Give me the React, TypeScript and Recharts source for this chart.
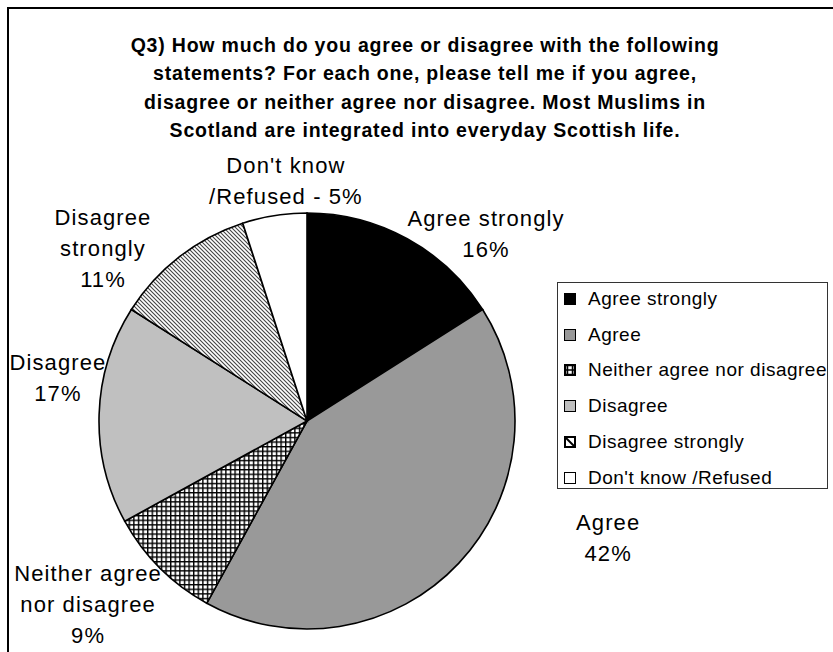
import React from "react"
import { Cell, Legend, Pie, PieChart } from "recharts"

const categories = ["Agree strongly", "Agree", "Neither agree nor disagree", "Disagree", "Disagree strongly", "Don't know /Refused"]
const shares = [16, 42, 9, 17, 11, 5]
// slice labels as printed on the chart, one entry per line
const sliceLabels = [
  ["Agree strongly", "16%"],
  ["Agree", "42%"],
  ["Neither agree", "nor disagree", "9%"],
  ["Disagree", "17%"],
  ["Disagree", "strongly", "11%"],
  ["Don't know", "/Refused - 5%"],
]
const titleLines = [
  "Q3) How much do you agree or disagree with the following",
  "statements? For each one, please tell me if you agree,",
  "disagree or neither agree nor disagree. Most Muslims in",
  "Scotland are integrated into everyday Scottish life.",
]

const data = categories.map((name, i) => ({ name, value: shares[i] }))

const fills = ["#000000", "#999999", "url(#crossHatch)", "#c0c0c0", "url(#diagStripes)", "#ffffff"]

// label placement relative to each slice: angle shift (degrees, clockwise) and radius factor
const labelPlacement = [
  { shift: 14.8, r: 1.248 },
  { shift: -22, r: 1.553 },
  { shift: 5.1, r: 1.372 },
  { shift: 8.2, r: 1.216 },
  { shift: -11.9, r: 1.286 },
  { shift: 4, r: 1.163 },
]

const FONT = '"Liberation Sans", Arial, sans-serif'
const RAD = Math.PI / 180

function renderLabel(props: any) {
  const { cx, cy, midAngle, outerRadius, index } = props
  const place = labelPlacement[index]
  const angle = (midAngle - place.shift) * RAD
  const r = outerRadius * place.r
  const x = cx + r * Math.cos(angle)
  const y = cy - r * Math.sin(angle)
  const lines = sliceLabels[index]
  const lh = 31
  const y0 = y - ((lines.length - 1) * lh) / 2
  return (
    <text x={x} y={y0} textAnchor="middle" dominantBaseline="central" fontFamily={FONT} fontSize={22} letterSpacing={1.1} fill="#000">
      {lines.map((line, i) => (
        <tspan key={i} x={x} y={y0 + i * lh}>
          {line}
        </tspan>
      ))}
    </text>
  )
}

function LegendIcon({ index }: { index: number }) {
  return (
    <svg width={12} height={12} style={{ display: "block" }}>
      <rect x={0.5} y={0.5} width={11} height={11} fill={index === 2 || index === 4 ? "#fff" : fills[index]} stroke="#000" strokeWidth={1} />
      {index === 2 && (
        <g stroke="#000" strokeWidth={1.5}>
          <line x1={0} y1={6} x2={12} y2={6} />
          <line x1={3.5} y1={0} x2={3.5} y2={12} />
          <line x1={8.5} y1={0} x2={8.5} y2={12} />
          <rect x={1.5} y={1.5} width={9} height={9} fill="none" />
        </g>
      )}
      {index === 4 && (
        <g stroke="#000">
          <line x1={2} y1={2} x2={10} y2={10} strokeWidth={2} />
          <rect x={1.5} y={1.5} width={9} height={9} fill="none" strokeWidth={1} />
        </g>
      )}
    </svg>
  )
}

function renderLegend() {
  return (
    <div
      style={{
        border: "1px solid #333",
        background: "#fff",
        width: 271,
        height: 207,
        boxSizing: "border-box",
        padding: "0 0 0 6px",
        fontFamily: FONT,
        fontSize: 19,
        letterSpacing: 0.5,
      }}
    >
      <div style={{ marginTop: -2 }}>
        {categories.map((c, i) => (
          <div key={c} style={{ display: "flex", alignItems: "center", height: 35.8 }}>
            <LegendIcon index={i} />
            <span style={{ marginLeft: 12, whiteSpace: "nowrap" }}>{c}</span>
          </div>
        ))}
      </div>
    </div>
  )
}

export default function App() {
  return (
    <div
      style={{
        position: "absolute",
        left: 7,
        top: 7,
        width: 824,
        height: 643,
        borderTop: "2px solid #000",
        borderLeft: "2px solid #000",
        background: "#fff",
      }}
    >
      <div
        style={{
          position: "absolute",
          left: 16,
          top: 22,
          width: 800,
          textAlign: "center",
          fontFamily: FONT,
          fontWeight: "bold",
          fontSize: 19.5,
          lineHeight: "28.3px",
          letterSpacing: 0.8,
          zIndex: 2,
        }}
      >
        {titleLines.map((t) => (
          <div key={t}>{t}</div>
        ))}
      </div>
      <PieChart width={824} height={643} margin={{ top: 0, right: 0, bottom: 0, left: 0 }}>
        <defs>
          <pattern id="crossHatch" patternUnits="userSpaceOnUse" width={4.6} height={4.6}>
            <rect width={4.6} height={4.6} fill="#fff" />
            <path d="M0 0.7 H4.6 M0.7 0 V4.6" stroke="#000" strokeWidth={1.4} />
          </pattern>
          <pattern id="diagStripes" patternUnits="userSpaceOnUse" width={4} height={4}>
            <rect width={4} height={4} fill="#fff" />
            <path d="M-1 -1 L5 5 M-1 3 L1 5 M3 -1 L5 1" stroke="#444" strokeWidth={1.1} />
          </pattern>
        </defs>
        <Pie
          data={data}
          dataKey="value"
          nameKey="name"
          cx={298}
          cy={412}
          outerRadius={208}
          startAngle={90}
          endAngle={-270}
          stroke="#000"
          strokeWidth={1.6}
          label={renderLabel}
          labelLine={false}
          isAnimationActive={false}
        >
          {data.map((d, i) => (
            <Cell key={d.name} fill={fills[i]} />
          ))}
        </Pie>
        <Legend content={renderLegend} layout="vertical" align="right" verticalAlign="top" wrapperStyle={{ left: 548, top: 273, width: 271 }} />
      </PieChart>
    </div>
  )
}
